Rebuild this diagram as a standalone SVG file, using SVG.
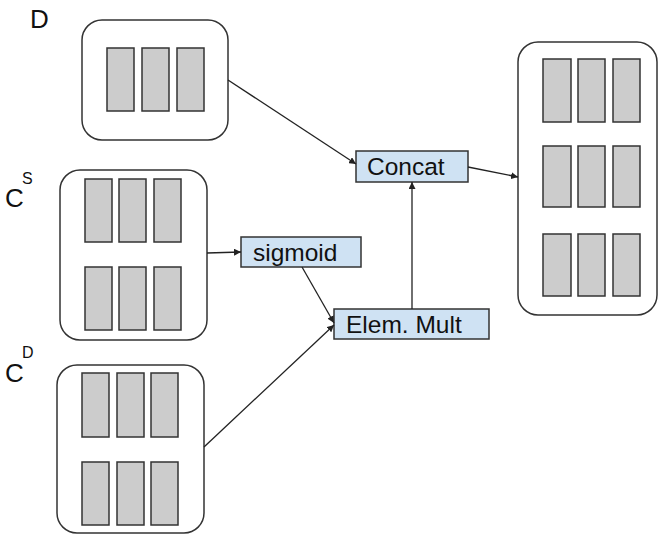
<svg xmlns="http://www.w3.org/2000/svg" width="660" height="536" viewBox="0 0 660 536">
<defs>
<style>
.cont{fill:#fff;stroke:#333;stroke-width:1.5}
.bar{fill:#ccc;stroke:#333;stroke-width:1.5}
.op{fill:#cfe2f3;stroke:#333;stroke-width:1.5}
.t{font-family:"Liberation Sans",Arial,sans-serif;fill:#111}
.lbl{font-size:24.5px}
.big{font-size:26px}
.sup{font-size:16px}
.edge{fill:none;stroke:#222;stroke-width:1.3}
</style>
<marker id="arr" viewBox="0 0 10 10" refX="10" refY="5" markerWidth="7" markerHeight="7" markerUnits="userSpaceOnUse" orient="auto">
<path d="M0,0 L10,5 L0,10 z" fill="#222"/>
</marker>
</defs>
<rect width="660" height="536" fill="#fff"/>

<g id="label-D"><text class="t big" x="30" y="28">D</text></g>
<g id="label-CS"><text class="t big" x="5" y="207">C</text><text class="t sup" x="22" y="184">S</text></g>
<g id="label-CD"><text class="t big" x="5" y="382">C</text><text class="t sup" x="22" y="358">D</text></g>

<g id="D">
<rect class="cont" x="82" y="20" width="146" height="120" rx="20"/>
<rect class="bar" x="107" y="48" width="27" height="63"/>
<rect class="bar" x="142" y="48" width="27" height="63"/>
<rect class="bar" x="177" y="48" width="27" height="63"/>
</g>

<g id="CS">
<rect class="cont" x="60" y="170" width="147" height="170" rx="20"/>
<rect class="bar" x="85" y="179" width="27" height="63"/>
<rect class="bar" x="119" y="179" width="27" height="63"/>
<rect class="bar" x="154" y="179" width="27" height="63"/>
<rect class="bar" x="85" y="267" width="27" height="63"/>
<rect class="bar" x="119" y="267" width="27" height="63"/>
<rect class="bar" x="154" y="267" width="27" height="63"/>
</g>

<g id="CD">
<rect class="cont" x="57" y="365" width="147" height="168" rx="20"/>
<rect class="bar" x="82" y="373" width="27" height="64"/>
<rect class="bar" x="117" y="373" width="27" height="64"/>
<rect class="bar" x="151" y="373" width="27" height="64"/>
<rect class="bar" x="82" y="462" width="27" height="63"/>
<rect class="bar" x="117" y="462" width="27" height="63"/>
<rect class="bar" x="151" y="462" width="27" height="63"/>
</g>

<g id="out">
<rect class="cont" x="518" y="42" width="139" height="273" rx="20"/>
<rect class="bar" x="543" y="59" width="28" height="63"/>
<rect class="bar" x="578" y="59" width="27" height="63"/>
<rect class="bar" x="613" y="59" width="27" height="63"/>
<rect class="bar" x="543" y="146" width="28" height="61"/>
<rect class="bar" x="578" y="146" width="27" height="61"/>
<rect class="bar" x="613" y="146" width="27" height="61"/>
<rect class="bar" x="543" y="234" width="28" height="62"/>
<rect class="bar" x="578" y="234" width="27" height="62"/>
<rect class="bar" x="613" y="234" width="27" height="62"/>
</g>

<g id="concat">
<rect class="op" x="356" y="151" width="112" height="31"/>
<text class="t lbl" x="367" y="175">Concat</text>
</g>

<g id="sigmoid">
<rect class="op" x="241" y="237" width="120" height="30"/>
<text class="t lbl" x="253" y="261">sigmoid</text>
</g>

<g id="mult">
<rect class="op" x="334" y="309" width="155" height="30"/>
<text class="t lbl" x="346" y="333">Elem. Mult</text>
</g>

<g id="connectors">
<line class="edge" x1="228" y1="80" x2="356" y2="164" marker-end="url(#arr)"/>
<line class="edge" x1="468" y1="167" x2="518" y2="177" marker-end="url(#arr)"/>
<line class="edge" x1="207" y1="253" x2="241" y2="252" marker-end="url(#arr)"/>
<line class="edge" x1="302" y1="267" x2="334" y2="323" marker-end="url(#arr)"/>
<line class="edge" x1="204" y1="447" x2="334" y2="325" marker-end="url(#arr)"/>
<line class="edge" x1="412" y1="309" x2="412" y2="182" marker-end="url(#arr)"/>
</g>
</svg>
